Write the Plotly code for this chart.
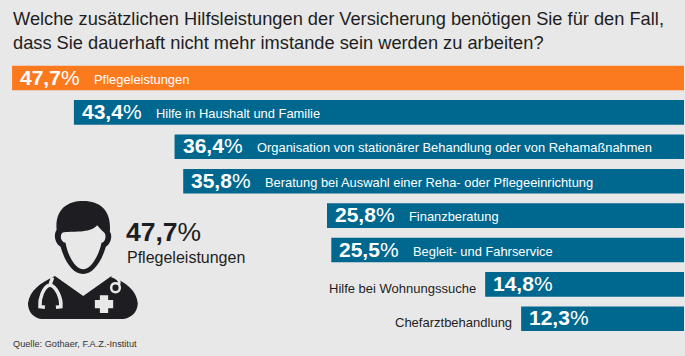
import plotly.graph_objects as go

categories = ["Pflegeleistungen", "Hilfe in Haushalt und Familie",
              "Organisation von stationärer Behandlung oder von Rehamaßnahmen",
              "Beratung bei Auswahl einer Reha- oder Pflegeeinrichtung",
              "Finanzberatung", "Begleit- und Fahrservice",
              "Hilfe bei Wohnungssuche", "Chefarztbehandlung"]
values = [47.7, 43.4, 36.4, 35.8, 25.8, 25.5, 14.8, 12.3]
colors = ["#fc7a1e"] + ["#00688f"] * 7
label_outside = [False, False, False, False, False, False, True, True]
title_text = ("Welche zusätzlichen Hilfsleistungen der Versicherung benötigen Sie für den Fall,<br>"
              "dass Sie dauerhaft nicht mehr imstande sein werden zu arbeiten?")
source_text = "Quelle: Gothaer, F.A.Z.-Institut"

W, H = 685, 356
FONT = "Liberation Sans"
BG = "#e8e8e8"
DARK = "#1e1e22"

def fmt(v):
    return f"{v:.1f}".replace(".", ",")

fig = go.Figure(go.Bar(
    y=categories, x=values, orientation="h",
    marker=dict(color=colors, line=dict(width=0)),
    width=0.715, hoverinfo="skip",
))

annotations = []
for c, v, out in zip(categories, values, label_outside):
    annotations.append(dict(x=v, y=c, xref="x", yref="y", xanchor="left", xshift=6, yshift=1,
                            text=f"<b>{fmt(v)}</b>%", showarrow=False,
                            font=dict(family=FONT, size=21, color="white")))
    if out:
        annotations.append(dict(x=v, y=c, xref="x", yref="y", xanchor="right", xshift=-7.5, yshift=-4,
                                text=c, showarrow=False,
                                font=dict(family=FONT, size=13, color=DARK)))
    else:
        annotations.append(dict(x=v, y=c, xref="x", yref="y", xanchor="left", xshift=80, yshift=-1,
                                text=c, showarrow=False,
                                font=dict(family=FONT, size=12.9, color="white")))

def px(x, y):
    return dict(x=x / W, y=1 - y / H)

annotations += [
    dict(**px(124, 232), xref="paper", yref="paper", xanchor="left", yanchor="middle",
         text=f"<b>{fmt(values[0])}</b>%", showarrow=False,
         font=dict(family=FONT, size=26.5, color=DARK)),
    dict(**px(125, 257), xref="paper", yref="paper", xanchor="left", yanchor="middle",
         text=categories[0], showarrow=False, font=dict(family=FONT, size=16, color=DARK)),
    dict(**px(11, 344), xref="paper", yref="paper", xanchor="left", yanchor="middle",
         text=source_text, showarrow=False, font=dict(family=FONT, size=9.2, color="#333333")),
]

# Doctor icon, outlined in crop coordinates (3x, crop origin y=190)
def P(*cmds):
    out = []
    for c in cmds:
        if isinstance(c, str):
            out.append(c)
        else:
            out.append(f"{c[0] / 3 / W:.5f},{1 - (190 + c[1] / 3) / H:.5f}")
    return " ".join(out)

def icon(path, fill=DARK, line=None, lw=0):
    return dict(type="path", xref="paper", yref="paper", path=path, fillcolor=fill,
                line=dict(color=line or fill, width=lw), layer="above")

head = P("M", (170, 120), "C", (165, 60), (200, 33), (250, 33), "C", (305, 33), (335, 65), (330, 125),
         "C", (338, 135), (335, 160), (318, 170), "C", (305, 215), (280, 252), (250, 252),
         "C", (218, 252), (195, 215), (182, 170), "C", (165, 160), (160, 135), (170, 120), "Z")
face = P("M", (187, 128), "C", (215, 122), (270, 132), (292, 106), "C", (300, 116), (308, 124), (315, 130),
         "C", (320, 140), (315, 158), (305, 158), "C", (295, 205), (270, 238), (250, 238),
         "C", (230, 238), (205, 205), (197, 158), "C", (185, 158), (178, 140), (187, 128), "Z")
body = P("M", (84, 340), "C", (90, 300), (120, 280), (165, 258), "L", (250, 318), "L", (335, 258),
         "C", (380, 280), (410, 300), (414, 340), "C", (414, 365), (395, 385), (370, 387),
         "L", (125, 387), "C", (100, 385), (84, 365), (84, 340), "Z")
steth = P("M", (158, 262), "L", (150, 285), "C", (130, 290), (118, 325), (120, 350), "L", (135, 352))
steth2 = P("M", (150, 285), "C", (170, 290), (185, 325), (183, 350), "L", (168, 352))
cross = P("M", (300, 316), "L", (325, 316), "L", (325, 330), "L", (340, 330), "L", (340, 355),
          "L", (325, 355), "L", (325, 369), "L", (300, 369), "L", (300, 355), "L", (285, 355),
          "L", (285, 330), "L", (300, 330), "Z")
tube = P("M", (335, 258), "C", (350, 262), (362, 272), (358, 282))
ring = P("M", (334, 293), "C", (334, 275), (360, 275), (360, 293), "C", (360, 311), (334, 311), (334, 293), "Z")

shapes = [
    icon(body), icon(head), icon(face, BG),
    icon(steth, "rgba(0,0,0,0)", BG, 3.5), icon(steth2, "rgba(0,0,0,0)", BG, 3.5),
    icon(cross, BG), icon(tube, "rgba(0,0,0,0)", BG, 2.5), icon(ring, DARK, BG, 2.5),
]

# bar left edge in pixels = 698 - 14.38 * value
SCALE, ZERO = 14.38, 698
STEP, FIRST = 34.4, 78

fig.update_layout(
    width=W, height=H,
    margin=dict(l=0, r=1, t=0, b=0),
    paper_bgcolor=BG, plot_bgcolor=BG,
    showlegend=False,
    title=dict(text=title_text, x=13 / W, xanchor="left", y=1 - 25 / H, yanchor="top",
               font=dict(family=FONT, size=18.25, color=DARK)),
    xaxis=dict(range=[ZERO / SCALE, (ZERO - (W - 1)) / SCALE], visible=False),
    yaxis=dict(range=[(H - FIRST) / STEP, -FIRST / STEP], visible=False, type="category",
               categoryorder="array", categoryarray=categories),
    annotations=annotations,
    shapes=shapes,
)

fig.write_html("out.html", config=dict(displayModeBar=False),
               post_script="document.body.style.margin='0';document.documentElement.style.overflow='hidden';")
